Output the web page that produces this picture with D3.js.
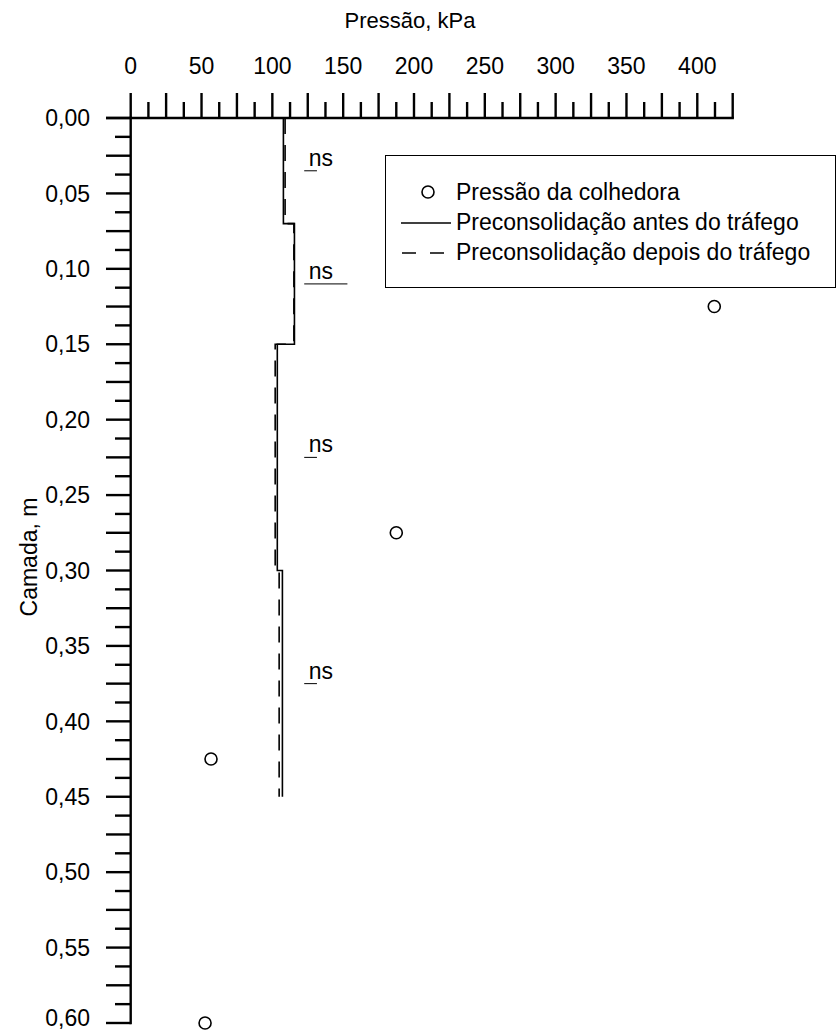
<!DOCTYPE html>
<html>
<head>
<meta charset="utf-8">
<script src="https://cdn.jsdelivr.net/npm/d3@7"></script>
<style>
  html, body { margin: 0; padding: 0; background: #fff; }
  svg { display: block; font-family: "Liberation Sans", Arial, sans-serif; }
</style>
</head>
<body>
<svg id="chart" width="837" height="1031"></svg>
<script>
// ---- data ----
const xTickLabels = [0, 50, 100, 150, 200, 250, 300, 350, 400];
const yTickLabels = [0, 0.05, 0.10, 0.15, 0.20, 0.25, 0.30, 0.35, 0.40, 0.45, 0.50, 0.55, 0.60];

// Pressão da colhedora (circles)
const harvesterPressure = [412, 187.5, 56.7, 52.5];
const harvesterDepth = [0.125, 0.275, 0.425, 0.60];

// Layers for preconsolidation step curves
const layerTop = [0, 0.07, 0.15, 0.30];
const layerBottom = [0.07, 0.15, 0.30, 0.45];
const precBefore = [107.8, 115.6, 103.5, 107.1];
const precAfter = [109.0, 115.2, 102.0, 104.8];

// ns annotations
const nsDepth = [0.035, 0.11, 0.225, 0.375];
const nsLabel = ["ns", "ns", "ns", "ns"];
const nsLineEnd = [131.5, 153, 131.5, 131.5];
const nsLineStart = 122.5;

const legendLabels = ["Pressão da colhedora", "Preconsolidação antes do tráfego", "Preconsolidação depois do tráfego"];

// ---- chart ----
const svg = d3.select("#chart");
const x = d3.scaleLinear().domain([0, 425]).range([130.7, 732.7]);
const y = d3.scaleLinear().domain([0, 0.6]).range([118, 1023]);

const axisW = 2.4;
const FS = 23;

// Title
svg.append("text").attr("x", 410).attr("y", 28).attr("text-anchor", "middle")
  .attr("font-size", 22).text("Pressão, kPa");

// X axis (top)
const majorX = d3.range(0, 425.01, 25);
const minorX = d3.range(12.5, 425, 25);
const gx = svg.append("g");
gx.selectAll("line.maj").data(majorX).join("line")
  .attr("x1", d => x(d)).attr("x2", d => x(d))
  .attr("y1", y(0)).attr("y2", y(0) - 25)
  .attr("stroke", "#000").attr("stroke-width", axisW);
gx.selectAll("line.min").data(minorX).join("line")
  .attr("x1", d => x(d)).attr("x2", d => x(d))
  .attr("y1", y(0)).attr("y2", y(0) - 16)
  .attr("stroke", "#000").attr("stroke-width", axisW);
gx.append("line").attr("x1", 106).attr("x2", x(425) + 1.2)
  .attr("y1", y(0)).attr("y2", y(0)).attr("stroke", "#000").attr("stroke-width", axisW);
gx.selectAll("text").data(xTickLabels).join("text")
  .attr("x", d => x(d)).attr("y", 73.5).attr("text-anchor", "middle")
  .attr("font-size", FS).text(d => d);

// Y axis (left)
const majorY = d3.range(0, 0.6001, 0.025);
const minorY = d3.range(0.0125, 0.6, 0.025);
const gy = svg.append("g");
gy.selectAll("line.maj").data(majorY).join("line")
  .attr("y1", d => y(d)).attr("y2", d => y(d))
  .attr("x1", x(0)).attr("x2", x(0) - 24.7)
  .attr("stroke", "#000").attr("stroke-width", axisW);
gy.selectAll("line.min").data(minorY).join("line")
  .attr("y1", d => y(d)).attr("y2", d => y(d))
  .attr("x1", x(0)).attr("x2", x(0) - 15.7)
  .attr("stroke", "#000").attr("stroke-width", axisW);
gy.append("line").attr("x1", x(0)).attr("x2", x(0))
  .attr("y1", y(0) - 1.2).attr("y2", y(0.6) + 1.2).attr("stroke", "#000").attr("stroke-width", axisW);
const fmt = d => d3.format(".2f")(d).replace(".", ",");
gy.selectAll("text").data(yTickLabels).join("text")
  .attr("x", 90).attr("y", d => Math.min(y(d) + 8.2, 1026)).attr("text-anchor", "end")
  .attr("font-size", FS).text(fmt);

svg.append("text").attr("transform", "translate(37,557) rotate(-90)")
  .attr("text-anchor", "middle").attr("font-size", FS).text("Camada, m");

// Step curves
function stepPoints(vals) {
  const pts = [];
  vals.forEach((v, i) => { pts.push([v, layerTop[i]]); pts.push([v, layerBottom[i]]); });
  return pts;
}
const line = d3.line().x(d => x(d[0])).y(d => y(d[1]));
svg.append("path").attr("d", line(stepPoints(precBefore)))
  .attr("fill", "none").attr("stroke", "#000").attr("stroke-width", 1.6);
svg.append("path").attr("d", line(stepPoints(precAfter)))
  .attr("fill", "none").attr("stroke", "#000").attr("stroke-width", 1.6)
  .attr("stroke-dasharray", "16,11");

// ns annotations
const gns = svg.append("g");
gns.selectAll("line").data(nsDepth).join("line")
  .attr("x1", x(nsLineStart)).attr("x2", (d, i) => x(nsLineEnd[i]))
  .attr("y1", d => y(d)).attr("y2", d => y(d))
  .attr("stroke", "#000").attr("stroke-width", 1);
gns.selectAll("text").data(nsDepth).join("text")
  .attr("x", x(nsLineStart) + 4.5).attr("y", d => y(d) - 5)
  .attr("font-size", FS).text((d, i) => nsLabel[i]);

// Circles
svg.selectAll("circle.hp").data(harvesterPressure).join("circle")
  .attr("cx", d => x(d)).attr("cy", (d, i) => y(harvesterDepth[i]))
  .attr("r", 6).attr("fill", "none").attr("stroke", "#000").attr("stroke-width", 1.6);

// Legend
const lg = svg.append("g");
lg.append("rect").attr("x", 385.5).attr("y", 155.5).attr("width", 450).attr("height", 132)
  .attr("fill", "#fff").attr("stroke", "#000").attr("stroke-width", 1);
const rowMid = [192, 222, 252];
lg.append("circle").attr("cx", 428).attr("cy", rowMid[0]).attr("r", 6)
  .attr("fill", "none").attr("stroke", "#000").attr("stroke-width", 1.6);
lg.append("line").attr("x1", 401).attr("x2", 451).attr("y1", rowMid[1] + 1).attr("y2", rowMid[1] + 1)
  .attr("stroke", "#000").attr("stroke-width", 1.6);
lg.append("line").attr("x1", 402).attr("x2", 446).attr("y1", rowMid[2] + 1).attr("y2", rowMid[2] + 1)
  .attr("stroke", "#000").attr("stroke-width", 1.6).attr("stroke-dasharray", "14,14");
lg.selectAll("text").data(legendLabels).join("text")
  .attr("x", 456).attr("y", (d, i) => rowMid[i] + 8).attr("font-size", FS).text(d => d);
</script>
</body>
</html>
